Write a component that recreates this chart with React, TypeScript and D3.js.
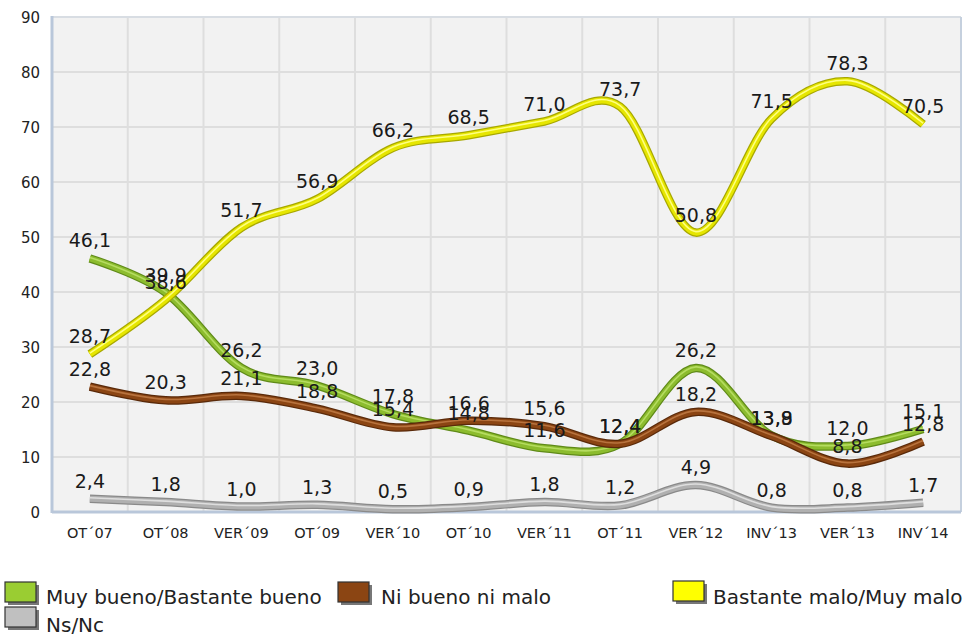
import React from "react";
import * as d3 from "d3";

const categories = ["OT´07", "OT´08", "VER´09", "OT´09", "VER´10", "OT´10", "VER´11", "OT´11", "VER´12", "INV´13", "VER´13", "INV´14"];
const muyBueno = [46.1, 39.9, 26.2, 23.0, 17.8, 14.8, 11.6, 12.4, 26.2, 13.9, 12.0, 15.1];
const niBueno = [22.8, 20.3, 21.1, 18.8, 15.4, 16.6, 15.6, 12.4, 18.2, 13.8, 8.8, 12.8];
const bastanteMalo = [28.7, 38.6, 51.7, 56.9, 66.2, 68.5, 71.0, 73.7, 50.8, 71.5, 78.3, 70.5];
const nsNc = [2.4, 1.8, 1.0, 1.3, 0.5, 0.9, 1.8, 1.2, 4.9, 0.8, 0.8, 1.7];
const yTicks = [0, 10, 20, 30, 40, 50, 60, 70, 80, 90];

const seriesNames = ["Muy bueno/Bastante bueno", "Ni bueno ni malo", "Bastante malo/Muy malo", "Ns/Nc"];

const styles = [
  { edge: "#5f8a18", mid: "#8cbc2e", hi: "#b5dc60", swatch: "#9acd32" },
  { edge: "#5a2a0a", mid: "#8b4513", hi: "#b8733e", swatch: "#8b4513" },
  { edge: "#a8a800", mid: "#e6e600", hi: "#ffff80", swatch: "#ffff00" },
  { edge: "#8a8a8a", mid: "#b0b0b0", hi: "#dedede", swatch: "#c0c0c0" },
];

const FONT = "'DejaVu Sans', Verdana, sans-serif";

export default function App() {
  const W = 968, H = 636;
  const left = 52, right = 961, top = 17, bottom = 512;
  const x = d3.scaleBand().domain(categories).range([left, right]);
  const y = d3.scaleLinear().domain([0, 90]).range([bottom, top]);
  const cx = (c: string) => (x(c) as number) + x.bandwidth() / 2;

  const allSeries = [muyBueno, niBueno, bastanteMalo, nsNc];
  const line = d3
    .line<number>()
    .x((_, i) => cx(categories[i]))
    .y((d) => y(d))
    .curve(d3.curveCardinal.tension(0));

  const drawOrder = [3, 0, 1, 2];
  const fmt = (v: number) => v.toFixed(1).replace(".", ",");

  const legendItems = [
    { i: 0, sx: 5, sy: 582, tx: 46, ty: 604 },
    { i: 1, sx: 338, sy: 582, tx: 381, ty: 604 },
    { i: 2, sx: 673, sy: 581, tx: 713, ty: 604 },
    { i: 3, sx: 5, sy: 607, tx: 46, ty: 632 },
  ];

  return (
    <svg width={W} height={H} style={{ position: "absolute", left: 0, top: 0, background: "#fff" }}>
      <rect x={left} y={top} width={right - left} height={bottom - top} fill="#f2f2f2" />
      {yTicks.slice(1).map((t) => (
        <line key={"gy" + t} x1={left} x2={right} y1={y(t)} y2={y(t)} stroke="#dedede" strokeWidth={2} />
      ))}
      {categories.slice(1).map((c) => (
        <line key={"gx" + c} x1={x(c) as number} x2={x(c) as number} y1={top} y2={bottom} stroke="#dedede" strokeWidth={2} />
      ))}
      <line x1={left} x2={right} y1={top} y2={top} stroke="#d8dde3" strokeWidth={2} />
      <line x1={right} x2={right} y1={top} y2={bottom} stroke="#c5d0de" strokeWidth={2} />
      <line x1={left} x2={left} y1={top - 1} y2={bottom + 1} stroke="#b9c7da" strokeWidth={3} />
      <line x1={left} x2={right} y1={bottom} y2={bottom} stroke="#b9c7da" strokeWidth={3} />

      {yTicks.map((t) => (
        <text key={"yt" + t} x={40} y={y(t) + 5.5} textAnchor="end" fontFamily={FONT} fontSize={15} fill="#222">
          {t}
        </text>
      ))}
      {categories.map((c) => (
        <text key={"xt" + c} x={cx(c)} y={538} textAnchor="middle" fontFamily={FONT} fontSize={14.5} fill="#222">
          {c}
        </text>
      ))}

      {drawOrder.map((si) => {
        const d = line(allSeries[si]) || "";
        const s = styles[si];
        return (
          <g key={"s" + si} fill="none" strokeLinecap="butt" strokeLinejoin="round">
            <path d={d} stroke={s.edge} strokeWidth={8.5} />
            <path d={d} stroke={s.mid} strokeWidth={6} />
            <path d={d} stroke={s.hi} strokeWidth={1.6} transform="translate(0,-1)" />
          </g>
        );
      })}

      {allSeries.map((vals, si) =>
        vals.map((v, i) => (
          <text
            key={"l" + si + "-" + i}
            x={cx(categories[i])}
            y={y(v) - 11}
            textAnchor="middle"
            fontFamily={FONT}
            fontSize={19}
            fill="#1a1a1a"
          >
            {fmt(v)}
          </text>
        ))
      )}

      {legendItems.map((it) => (
        <g key={"lg" + it.i}>
          <rect x={it.sx + 3} y={it.sy + 3} width={31} height={20} fill="#777" />
          <rect x={it.sx} y={it.sy} width={31} height={20} fill={styles[it.i].swatch} stroke="#333" strokeWidth={1.2} />
          <text x={it.tx} y={it.ty} fontFamily={FONT} fontSize={20} fill="#222">
            {seriesNames[it.i]}
          </text>
        </g>
      ))}
    </svg>
  );
}
